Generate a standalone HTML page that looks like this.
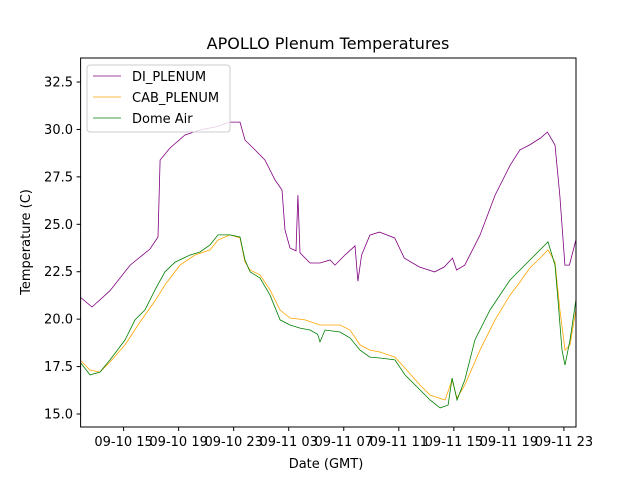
<!DOCTYPE html>
<html><head><meta charset="utf-8"><style>
body{margin:0;background:#fff}
svg{display:block;font-family:"DejaVu Sans","Liberation Sans",sans-serif}
</style></head><body>
<svg id="chart" width="640" height="480" viewBox="0 0 640 480" xmlns="http://www.w3.org/2000/svg">
<rect width="640" height="480" fill="#fff"/>
<defs><clipPath id="clip"><rect x="80.6" y="58" width="495.4" height="369"/></clipPath></defs>
<text x="328" y="49" text-anchor="middle" font-size="16">APOLLO Plenum Temperatures</text>
<g id="plot" clip-path="url(#clip)"></g>
<g id="axes"></g>
<rect x="80.6" y="58" width="495.4" height="369" fill="none" stroke="#000" stroke-width="1"/>
<text x="326" y="468" text-anchor="middle" font-size="13">Date (GMT)</text>
<text transform="translate(30,242) rotate(-90)" text-anchor="middle" font-size="13">Temperature (C)</text>
<g id="legend">
<rect x="87" y="65" width="143" height="67" rx="3" fill="#fff" fill-opacity="0.8" stroke="#ccc"/>
</g>
</svg>
<script>
const diTimes=[11.83,12.70,14.01,15.48,16.92,17.50,17.65,18.37,19.46,20.55,21.64,22.73,23.46,23.82,24.55,25.27,26.0,26.51,26.73,27.09,27.53,27.67,27.82,28.55,29.27,30.0,30.36,31.09,31.82,32.03,32.3,32.9,33.6,34.7,35.4,36.5,37.6,38.3,38.9,39.2,39.8,40.9,42.0,43.1,43.8,44.5,45.3,45.8,46.35,46.7,47.07,47.4,47.87];
const diTemps=[21.17,20.64,21.5,22.85,23.7,24.33,28.39,29.02,29.71,29.97,30.13,30.39,30.39,29.44,28.92,28.39,27.34,26.81,24.70,23.75,23.6,26.54,23.5,22.96,22.96,23.12,22.85,23.38,23.86,22.0,23.38,24.43,24.59,24.28,23.22,22.75,22.49,22.75,23.22,22.59,22.85,24.43,26.54,28.13,28.92,29.18,29.55,29.86,29.18,26.54,22.85,22.85,24.17];
const cabTimes=[11.83,12.56,13.28,14.01,15.1,16.19,17.28,18.0,19.1,20.19,21.28,21.86,22.73,23.46,23.82,24.19,24.91,25.64,26.37,27.09,28.18,29.27,30.73,31.45,32.18,32.9,33.63,34.72,35.45,36.54,37.27,38.36,38.87,39.23,39.8,40.9,41.99,43.08,43.81,44.53,45.26,45.84,46.35,46.71,47.08,47.44,47.87];
const cabTemps=[17.85,17.32,17.21,17.74,18.64,19.85,20.96,21.80,22.85,23.38,23.65,24.17,24.44,24.28,23.01,22.59,22.33,21.54,20.48,20.06,19.96,19.69,19.69,19.43,18.64,18.37,18.27,18.0,17.42,16.53,16.0,15.74,16.79,15.84,16.53,18.37,19.96,21.27,21.96,22.70,23.22,23.65,23.01,20.48,18.37,18.64,20.48];
const domeTimes=[11.83,12.56,13.28,14.01,15.1,15.83,16.55,17.28,18.0,18.74,19.83,20.55,21.28,21.86,22.73,23.46,23.82,24.19,24.91,25.64,26.37,27.09,27.82,28.55,29.1,29.27,29.64,30.73,31.45,32.18,32.9,33.63,34.72,35.45,36.54,37.27,38.0,38.58,38.87,39.23,39.8,40.53,41.63,42.35,43.08,43.81,44.53,45.26,45.84,46.35,46.57,46.86,47.08,47.44,47.87];
const domeTemps=[17.74,17.06,17.21,17.85,18.90,19.96,20.48,21.54,22.49,23.01,23.38,23.54,23.91,24.44,24.44,24.33,23.12,22.49,22.17,21.27,19.96,19.69,19.53,19.43,19.2,18.80,19.43,19.32,19.01,18.37,18.0,17.95,17.85,17.06,16.27,15.74,15.32,15.47,16.90,15.74,16.79,18.90,20.48,21.27,22.06,22.59,23.12,23.65,24.07,22.85,21.01,18.37,17.58,18.90,21.01];
const yTicks=[15.0,17.5,20.0,22.5,25.0,27.5,30.0,32.5];
const xTickHours=[15,19,23,27,31,35,39,43,47];
const xTickLabels=["09-10 15","09-10 19","09-10 23","09-11 03","09-11 07","09-11 11","09-11 15","09-11 19","09-11 23"];
const NS="http://www.w3.org/2000/svg";
function xs(h){return 123.6+(h-15)*13.76;}
function ys(t){return 414-(t-15)*18.97;}
const plot=document.getElementById('plot'),axes=document.getElementById('axes'),legend=document.getElementById('legend');
function line(times,temps,color,name){
  const p=document.createElementNS(NS,'polyline');
  p.setAttribute('points',times.map((t,i)=>xs(t).toFixed(1)+','+ys(temps[i]).toFixed(1)).join(' '));
  p.setAttribute('fill','none');p.setAttribute('stroke',color);p.setAttribute('stroke-width','0.8');
  
  
  plot.appendChild(p);
}
line(diTimes,diTemps,'purple','di-plenum-line');
line(cabTimes,cabTemps,'orange','cab-plenum-line');
line(domeTimes,domeTemps,'green','dome-air-line');
yTicks.forEach(v=>{
  const y=ys(v);
  const l=document.createElementNS(NS,'line');
  l.setAttribute('x1',76.6);l.setAttribute('x2',80.6);l.setAttribute('y1',y);l.setAttribute('y2',y);l.setAttribute('stroke','#000');
  
  
  axes.appendChild(l);
  const t=document.createElementNS(NS,'text');
  t.setAttribute('x',73);t.setAttribute('y',y+4.5);t.setAttribute('text-anchor','end');t.setAttribute('font-size','13');
  t.textContent=v.toFixed(1);
  
  
  axes.appendChild(t);
});
xTickHours.forEach((h,i)=>{
  const x=xs(h);
  const l=document.createElementNS(NS,'line');
  l.setAttribute('x1',x);l.setAttribute('x2',x);l.setAttribute('y1',427);l.setAttribute('y2',431);l.setAttribute('stroke','#000');
  
  
  axes.appendChild(l);
  const t=document.createElementNS(NS,'text');
  t.setAttribute('x',x);t.setAttribute('y',446);t.setAttribute('text-anchor','middle');t.setAttribute('font-size','13');
  t.textContent=xTickLabels[i];
  
  
  axes.appendChild(t);
});
[['DI_PLENUM','purple',76],['CAB_PLENUM','orange',97],['Dome Air','green',118]].forEach(e=>{
  const g=document.createElementNS(NS,'g');
  
  
  const l=document.createElementNS(NS,'line');
  l.setAttribute('x1',93);l.setAttribute('x2',121);l.setAttribute('y1',e[2]);l.setAttribute('y2',e[2]);l.setAttribute('stroke',e[1]);l.setAttribute('stroke-width','0.8');
  g.appendChild(l);
  const t=document.createElementNS(NS,'text');
  t.setAttribute('x',132);t.setAttribute('y',e[2]+5);t.setAttribute('font-size','13');
  t.textContent=e[0];
  g.appendChild(t);
  legend.appendChild(g);
});
</script>
</body></html>
